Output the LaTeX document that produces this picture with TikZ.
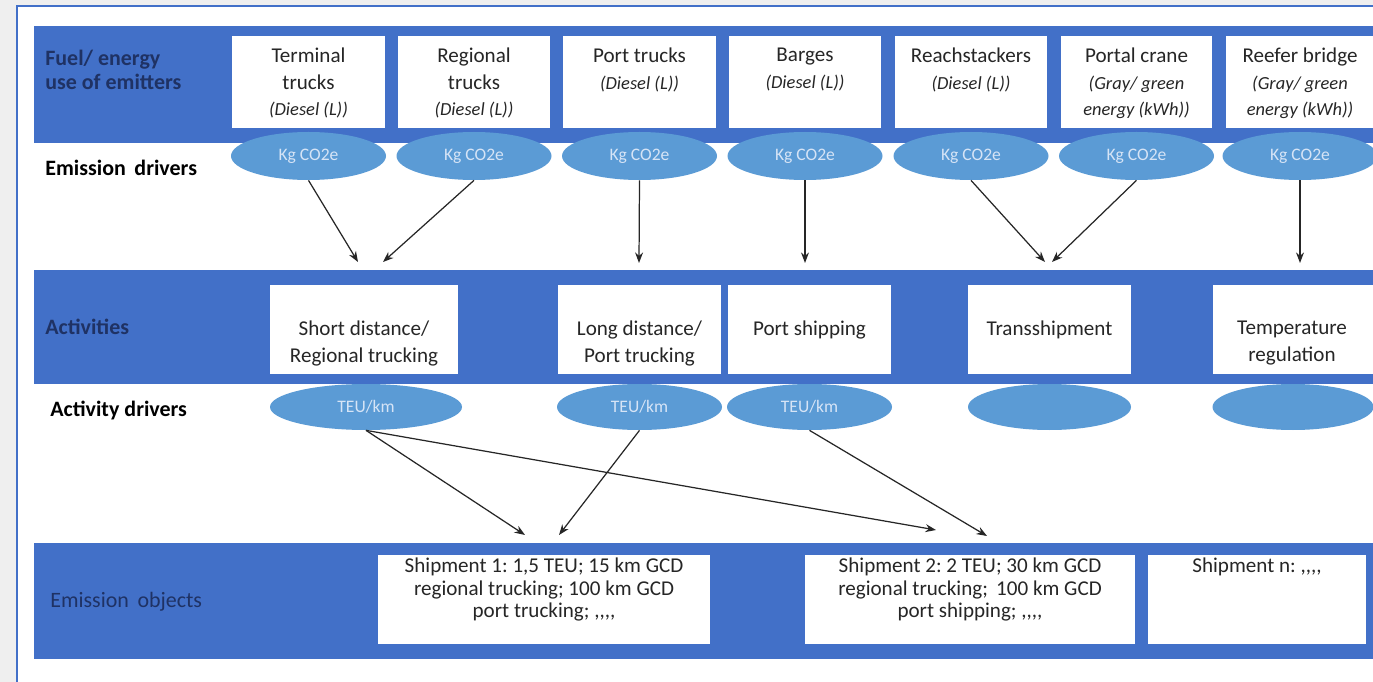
\documentclass[tikz,border=0pt]{standalone}
\usepackage{fontspec}
\setmainfont{Carlito}
\usetikzlibrary{arrows.meta,positioning,shapes.geometric}
\frenchspacing

\definecolor{bandblue}{RGB}{66,112,200}
\definecolor{ovalblue}{RGB}{91,155,213}
\definecolor{framegray}{RGB}{239,239,239}
\definecolor{navy}{RGB}{31,50,100}
\definecolor{ovaltext}{RGB}{214,228,246}

\newlength\pxl
\setlength\pxl{0.02cm}

\tikzset{
	band/.style={fill=bandblue},
	wbox/.style 2 args={fill=white, inner sep=0pt, minimum width=#1*\pxl, minimum height=#2*\pxl},
	oval/.style 2 args={ellipse, fill=ovalblue, inner sep=0pt, minimum width=#1*\pxl, minimum height=#2*\pxl, text=ovaltext, font=\fontsize{10}{11}\selectfont},
	boxtext/.style={anchor=north, align=center, inner sep=0pt, text=black!85, font=\fontsize{12}{15}\selectfont},
	shiptext/.style={anchor=north, align=center, inner sep=0pt, text=black!85, font=\fontsize{12}{12.8}\selectfont},
	rowlabel/.style={anchor=west, align=left, inner sep=0pt, font=\bfseries\fontsize{12.5}{14}\selectfont},
	arr/.style={-{Stealth[length=6pt,width=4.5pt]}, line width=0.7pt, black!85},
}
\newcommand{\fuel}[1]{{\itshape\fontsize{10.5}{15}\selectfont #1}}
\newcommand{\commas}{,\kern0pt,\kern0pt,\kern0pt,}

\begin{document}
\begin{tikzpicture}[x=0.02cm, y=-0.02cm]
	\useasboundingbox (0,0) rectangle (1373,682);

	% frame
	\fill[framegray] (0,0) rectangle (1373,682);
	\fill[white] (17,6) rectangle (1373,682);
	\draw[bandblue, line width=1.2pt] (17,682) -- (17,6) -- (1373,6);

	% bands
	\fill[band] (34,26) rectangle (1373,143);
	\fill[band] (34,270) rectangle (1373,384);
	\fill[band] (34,543) rectangle (1373,659);

	% row labels
	\node[rowlabel, text=navy] (lfuel) at (45,70) {Fuel/ energy\\use of emitters};
	\node[rowlabel] (ldrive) at (45,168) {Emission\, drivers};
	\node[rowlabel, text=navy] (lact) at (45,327) {Activities};
	\node[rowlabel] (ladrive) at (50,411) {Activity drivers};
	\node[rowlabel, text=navy, font=\fontsize{12.5}{14}\selectfont] (lobj) at (50,602) {Emission\, objects};

	% emitters
	\node[wbox={153}{92}] (term) at (308.5,82) {};
	\node[wbox={152}{92}] (reg) at (474,82) {};
	\node[wbox={153}{92}] (port) at (639.5,82) {};
	\node[wbox={152}{92}] (barge) at (805,82) {};
	\node[wbox={152}{92}] (reach) at (971,82) {};
	\node[wbox={151}{92}] (crane) at (1136.5,82) {};
	\node[wbox={152}{92}] (reefer) at (1302,82) {};

	\node[boxtext] (termT) at (308.5,48) {Terminal\\trucks\\\fuel{(Diesel (L))}};
	\node[boxtext] (regT) at (474,48) {Regional\\trucks\\\fuel{(Diesel (L))}};
	\node[boxtext] (portT) at (639.5,48) {Port trucks\\\fuel{(Diesel (L))}};
	\node[boxtext] (bargeT) at (805,48) {Barges\\\fuel{(Diesel (L))}};
	\node[boxtext] (reachT) at (971,48) {Reachstackers\\\fuel{(Diesel (L))}};
	\node[boxtext] (craneT) at (1136.5,48) {Portal crane\\\fuel{(Gray/ green}\\\fuel{energy (kWh))}};
	\node[boxtext] (reeferT) at (1300,48) {Reefer bridge\\\fuel{(Gray/ green}\\\fuel{energy (kWh))}};

	% emission drivers
	\node[oval={155}{48}] (eTerm) at (308.5,156) {Kg CO2e};
	\node[oval={155}{48}] (eReg) at (474,156) {Kg CO2e};
	\node[oval={155}{48}] (ePort) at (639.5,156) {Kg CO2e};
	\node[oval={155}{48}] (eBarge) at (805,156) {Kg CO2e};
	\node[oval={155}{48}] (eReach) at (971,156) {Kg CO2e};
	\node[oval={155}{48}] (eCrane) at (1136.5,156) {Kg CO2e};
	\node[oval={155}{48}] (eReefer) at (1300,156) {Kg CO2e};

	% activities
	\node[wbox={188}{89}] (short) at (364,329.5) {};
	\node[wbox={163}{89}] (long) at (639.5,329.5) {};
	\node[wbox={163}{89}] (ship) at (809.5,329.5) {};
	\node[wbox={163}{89}] (trans) at (1049.5,329.5) {};
	\node[wbox={163}{89}] (temp) at (1294.5,329.5) {};

	\node[boxtext] (shortT) at (364,321) {Short distance/\\Regional trucking};
	\node[boxtext] (longT) at (639.5,321) {Long distance/\\Port trucking};
	\node[boxtext] (shipT) at (809.5,321) {Port shipping};
	\node[boxtext] (transT) at (1049.5,321) {Transshipment};
	\node[boxtext] (tempT) at (1292,321) {Temperature\\regulation};

	% activity drivers
	\node[oval={192}{46}] (aShort) at (366,407) {TEU/km};
	\node[oval={165}{46}] (aLong) at (639.5,407) {TEU/km};
	\node[oval={165}{46}] (aShip) at (809.5,407) {TEU/km};
	\node[oval={163}{46}] (aTrans) at (1049.5,407) {};
	\node[oval={161}{46}] (aTemp) at (1293,407) {};

	% emission objects
	\node[wbox={332}{89}] (ship1) at (544,599.5) {};
	\node[wbox={330}{89}] (ship2) at (970,599.5) {};
	\node[wbox={218}{89}] (shipn) at (1257,599.5) {};

	\node[shiptext] (ship1T) at (544,558) {Shipment 1: 1,5 TEU; 15 km GCD\\regional trucking; 100 km GCD\\port trucking; \commas};
	\node[shiptext] (ship2T) at (970,558) {Shipment 2: 2 TEU; 30 km GCD\\regional trucking;\, 100 km GCD\\port shipping; \commas};
	\node[shiptext] (shipnT) at (1257,558) {Shipment n: \commas};

	% arrow ends
	\coordinate (inShortA) at (358,262);
	\coordinate (inShortB) at (383,262);
	\coordinate (inLong) at (639,263);
	\coordinate (inShip) at (805,263);
	\coordinate (inTransA) at (1045,262);
	\coordinate (inTransB) at (1052,262);
	\coordinate (inTemp) at (1300,263);
	\coordinate (inShip1A) at (525,535);
	\coordinate (inShip1B) at (559,535);
	\coordinate (inShip2A) at (936,530);
	\coordinate (inShip2B) at (987,536);

	% arrows
	\draw[arr] (eTerm.south) -- (inShortA);
	\draw[arr] (eReg.south) -- (inShortB);
	\draw[arr] (ePort.south) -- (inLong);
	\draw[arr] (eBarge.south) -- (inShip);
	\draw[arr] (eReach.south) -- (inTransA);
	\draw[arr] (eCrane.south) -- (inTransB);
	\draw[arr] (eReefer.south) -- (inTemp);

	\draw[arr] (aShort.south) -- (inShip1A);
	\draw[arr] (aLong.south) -- (inShip1B);
	\draw[arr] (aShort.south) -- (inShip2A);
	\draw[arr] (aShip.south) -- (inShip2B);

\end{tikzpicture}
\end{document}
